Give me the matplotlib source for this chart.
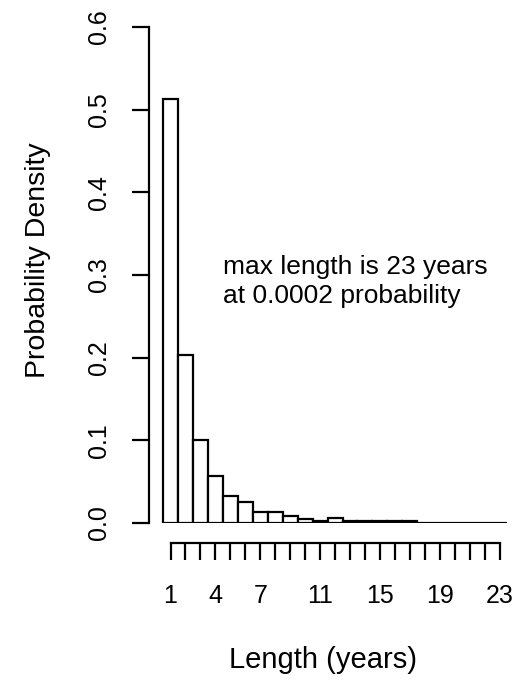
import numpy as np
import matplotlib.pyplot as plt

# Data
years = list(range(1, 24))
density = [0.513, 0.203, 0.101, 0.057, 0.033, 0.026, 0.013, 0.013, 0.009, 0.005,
           0.003, 0.006, 0.003, 0.002, 0.002, 0.002, 0.002, 0.0005, 0.0004,
           0.0003, 0.0003, 0.0002, 0.0002]
y_ticks = [0.0, 0.1, 0.2, 0.3, 0.4, 0.5, 0.6]
x_labelled = [1, 4, 7, 11, 15, 19, 23]

plt.rcParams['font.family'] = ['Liberation Sans', 'DejaVu Sans']

W, H = 520, 680
fig = plt.figure(figsize=(W / 100, H / 100), dpi=100)
ax = fig.add_axes([149 / W, (H - 523) / H, (W - 149) / W, (523 - 27) / H])

ax.bar(years, density, width=1.0, color='white', edgecolor='black', linewidth=1.6)

ax.set_xlim(-0.44, 24.37)
ax.set_ylim(0, 0.6)

for s in ['top', 'right']:
    ax.spines[s].set_visible(False)
ax.spines['left'].set_bounds(0, 0.6)
ax.spines['left'].set_linewidth(1.6)
ax.spines['bottom'].set_position(('outward', 14.4))
ax.spines['bottom'].set_bounds(1, 23)
ax.spines['bottom'].set_linewidth(1.6)

ax.set_yticks(y_ticks)
ax.set_yticklabels([f'{v:.1f}' for v in y_ticks], rotation=90, va='center')
ax.set_xticks(years)
ax.set_xticklabels([str(y) if y in x_labelled else '' for y in years])
ax.tick_params(axis='both', direction='out', length=12.5, width=1.6, labelsize=18)
ax.tick_params(axis='y', pad=15)
ax.tick_params(axis='x', pad=17)

ax.set_ylabel('Probability Density', fontsize=20.5, va='center')
ax.yaxis.set_label_coords(-0.30, 0.53)
ax.set_xlabel('Length (years)', fontsize=21, va='center')
ax.xaxis.set_label_coords(0.469, -0.276)

ax.text(4.5, 0.292, 'max length is 23 years\nat 0.0002 probability',
        fontsize=19, ha='left', va='center', linespacing=1.3)

fig.savefig('out.png', dpi=100)
